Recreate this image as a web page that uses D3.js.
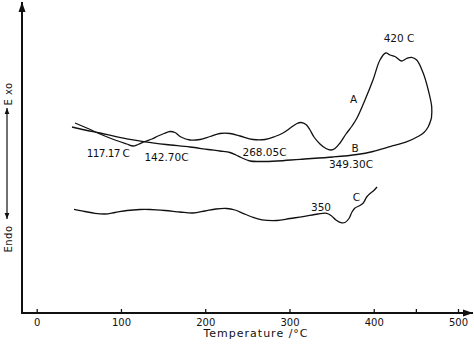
<!DOCTYPE html>
<html>
<head>
<meta charset="utf-8">
<script src="https://cdn.jsdelivr.net/npm/d3@7"></script>
<style>
  html, body { margin: 0; padding: 0; background: #fff; }
  svg { display: block; }
  text { font-family: "DejaVu Sans", sans-serif; fill: #111; }
</style>
</head>
<body>
<svg id="chart" width="474" height="347"></svg>
<script>
// ---- Data (temperature °C, signal in arbitrary units) ----
const curveA = [
  [45.5,190],[60.9,184.5],[75.1,179],[92.9,173],[106.8,169],[114.3,167],[120.2,168.5],
  [128.5,171.5],[136.8,174],[144.0,177],[151.1,179.5],[158.2,181.5],[164.1,180.5],
  [171.3,176],[181.9,173],[193.8,173.5],[205.7,176.5],[217.5,179.5],[229.4,179.5],
  [241.3,177],[256.7,173.5],[270.9,173.5],[282.8,176.5],[292.3,180],[301.8,185.5],
  [308.9,189.5],[313.7,190.5],[319.6,188.5],[324.4,183],[329.1,176],[336.2,169],
  [343.3,164.5],[349.3,163],[354.0,164.5],[360.0,170],[367.1,179],[374.2,187],
  [380.1,195],[389.6,213],[399.1,233],[407.4,253],[414.2,260],[419.3,258],[425.2,256.5],
  [432.9,252],[438.9,254.5],[444.8,255.7],[451.0,253],[458.8,239.7],[464.7,223],
  [468.8,206.3],[468.5,195]
];
const curveB = [
  [41.9,186],[57.3,183],[75.1,180],[92.9,176.7],[110.7,173.7],[128.5,171.2],[153.5,168.5],
  [181.9,166],[203.3,163.5],[217.5,162],[229.4,160.5],[236.5,158],[242.5,155.5],
  [253.1,152],[265.0,151.5],[285.2,152],[312.5,153.7],[351.6,156],[380.1,158.5],
  [399.1,161.5],[419.3,166.3],[439.5,171.3],[452.5,176.5],[459.6,180.5],[464.7,186.3],[468.5,195]
];
const curveC = [
  [44.3,103.7],[57.3,101.5],[69.2,99.7],[81.1,99],[92.9,100.5],[107.2,102.5],[122.6,103.5],
  [134.5,103.5],[152.3,102.5],[170.1,101],[185.5,100],[199.7,102],[212.8,104],[225.5,104.5],
  [235.3,103],[244.8,99.7],[255.5,96],[267.4,93.2],[285.2,92.5],[300.6,94.5],[316.0,96.3],
  [333.8,99],[344.2,99.7],[349.3,97.5],[355.2,93],[361.1,90.3],[365.9,90.5],[370.6,94.5],
  [374.2,101],[377.8,105],[382.5,107],[387.3,109.7],[391.6,116],[395.6,119.5],[399.5,122],[403.9,126]
];
const xTicks = [0, 100, 200, 300, 400, 450, 500];
const xTickLabels = ["0", "100", "200", "300", "400", "", "500"];
const annoText = ["420 C", "A", "B", "349.30C", "117.17 C", "142.70C", "268.05C", "350", "C"];
const annoT    = [430.0, 376.0, 377.8, 373.0, 84.6, 154.0, 270.4, 337.4, 379.5];
const annoV    = [275, 214, 165, 149.5, 160.5, 156, 161, 106.5, 116];
const xTitle = "Temperature /°C";
const yLabelTop = "E xo";
const yLabelBottom = "Endo";

// ---- Scales ----
const svg = d3.select("#chart");
const x = d3.scaleLinear().domain([0, 500]).range([36.7, 458]);
const y = d3.scaleLinear().domain([0, 310]).range([313, 3]);
const axisX0 = 22, axisY0 = 313;

// markers
const defs = svg.append("defs");
defs.append("marker").attr("id", "arr").attr("viewBox", "0 0 10 10")
  .attr("refX", 10).attr("refY", 5).attr("markerWidth", 10).attr("markerHeight", 10)
  .attr("markerUnits", "userSpaceOnUse").attr("orient", "auto")
  .append("path").attr("d", "M0,1.5 L10,5 L0,8.5 Z").attr("fill", "#111");
defs.append("marker").attr("id", "arrs").attr("viewBox", "0 0 10 10")
  .attr("refX", 10).attr("refY", 5).attr("markerWidth", 6).attr("markerHeight", 6)
  .attr("markerUnits", "userSpaceOnUse").attr("orient", "auto-start-reverse")
  .append("path").attr("d", "M0,1 L10,5 L0,9 Z").attr("fill", "#111");

// y axis line
svg.append("line").attr("x1", axisX0).attr("y1", axisY0 + 1).attr("x2", axisX0).attr("y2", 2)
  .attr("stroke", "#111").attr("stroke-width", 2).attr("marker-end", "url(#arr)");
// x axis line
svg.append("line").attr("x1", axisX0 - 1).attr("y1", axisY0).attr("x2", 473).attr("y2", axisY0)
  .attr("stroke", "#111").attr("stroke-width", 2).attr("marker-end", "url(#arr)");

// x axis ticks and labels via d3 axis
const xAxis = d3.axisBottom(x).tickValues(xTicks)
  .tickFormat((d, i) => xTickLabels[i]).tickSizeInner(-4).tickSizeOuter(0).tickPadding(5.5);
const gx = svg.append("g").attr("transform", `translate(0,${axisY0})`).call(xAxis);
gx.select(".domain").remove();
gx.selectAll(".tick line").attr("stroke", "#111").attr("stroke-width", 1.3);
gx.selectAll(".tick text").attr("font-family", "DejaVu Sans").attr("font-size", 10).attr("fill", "#111");

// axis title
svg.append("text").attr("x", 256).attr("y", 333).attr("text-anchor", "middle")
  .attr("dominant-baseline", "central").attr("font-size", 11).attr("letter-spacing", 1)
  .text(xTitle);

// Exo / Endo labels
svg.append("text").attr("transform", "translate(8,94) rotate(-90)").attr("text-anchor", "middle")
  .attr("dominant-baseline", "central").attr("font-size", 10).attr("letter-spacing", 0.5).text(yLabelTop);
svg.append("text").attr("transform", "translate(8,239) rotate(-90)").attr("text-anchor", "middle")
  .attr("dominant-baseline", "central").attr("font-size", 10).attr("letter-spacing", 0.5).text(yLabelBottom);
svg.append("line").attr("x1", 7).attr("y1", 219).attr("x2", 7).attr("y2", 108)
  .attr("stroke", "#111").attr("stroke-width", 1.2)
  .attr("marker-start", "url(#arrs)").attr("marker-end", "url(#arrs)");

// curves
const line = d3.line().x(d => x(d[0])).y(d => y(d[1])).curve(d3.curveCatmullRom.alpha(0.5));
[curveA, curveB, curveC].forEach(c => {
  svg.append("path").datum(c).attr("d", line).attr("fill", "none")
    .attr("stroke", "#111").attr("stroke-width", 1.3).attr("stroke-linejoin", "round");
});

// annotations
annoText.forEach((t, i) => {
  svg.append("text").attr("x", x(annoT[i])).attr("y", y(annoV[i]))
    .attr("text-anchor", "middle").attr("dominant-baseline", "central")
    .attr("font-size", 10.5).attr("letter-spacing", t === "117.17 C" ? -0.6 : 0).text(t);
});
</script>
</body>
</html>
